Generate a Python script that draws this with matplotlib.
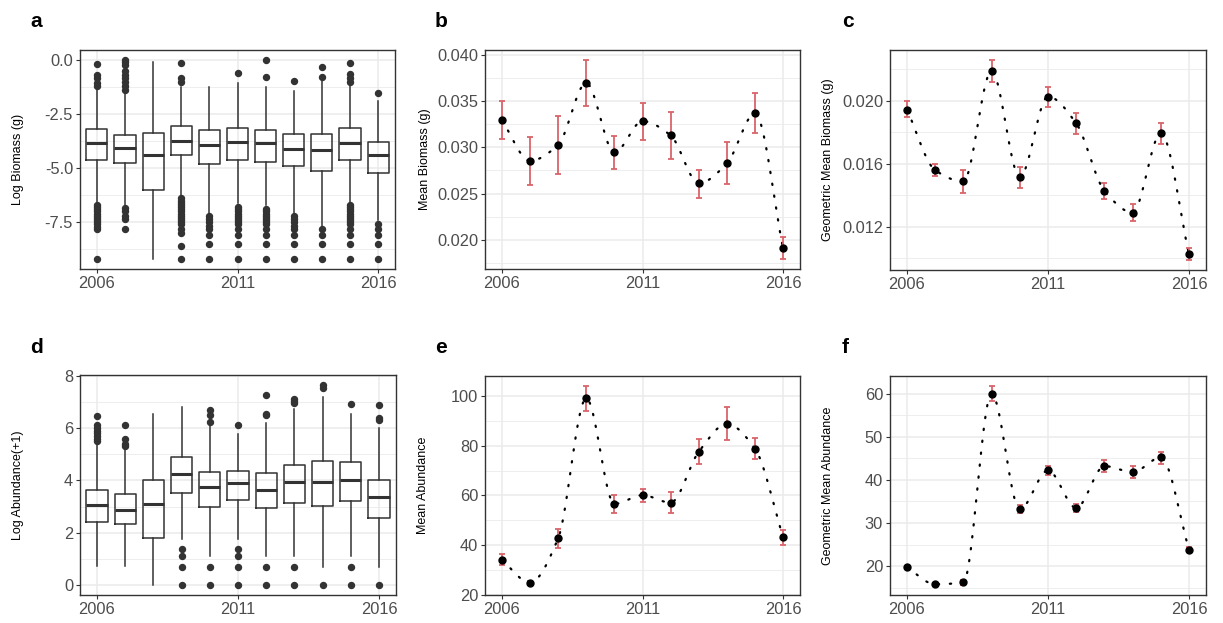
import numpy as np
import matplotlib
matplotlib.use("Agg")
from matplotlib import pyplot as plt

plt.rcParams['font.family'] = ['Liberation Sans', 'DejaVu Sans']

years = list(range(2006, 2017))

# ---- panel a: log biomass boxplots (q1, median, q3, whisker lo, whisker hi)
bio_q1 = [-4.60, -4.78, -6.03, -4.41, -4.83, -4.63, -4.70, -4.90, -5.12, -4.63, -5.24]
bio_med = [-3.83, -4.09, -4.41, -3.74, -3.94, -3.80, -3.83, -4.11, -4.14, -3.86, -4.37]
bio_q3 = [-3.18, -3.45, -3.38, -3.07, -3.24, -3.13, -3.24, -3.41, -3.41, -3.13, -3.79]
bio_wlo = [-6.6, -6.77, -9.18, -6.3, -7.1, -6.6, -6.7, -7.07, -7.68, -6.6, -7.38]
bio_whi = [-1.3, -1.57, -0.09, -1.24, -1.24, -1.08, -1.27, -1.42, -0.96, -1.15, -1.9]
bio_fliers = [
    [-0.2, -0.7, -0.85, -1.05, -1.2, -6.7, -6.8, -6.9, -7.0, -7.1, -7.2, -7.3, -7.4, -7.5, -7.6, -7.7, -7.8, -9.2],
    [0.0, -0.1, -0.25, -0.5, -0.7, -0.85, -1.0, -1.2, -1.4, -6.85, -7.0, -7.2, -7.35, -7.8],
    [],
    [-0.12, -0.84, -1.04, -6.4, -6.5, -6.6, -6.7, -6.8, -6.9, -7.0, -7.1, -7.2, -7.3, -7.4, -7.5, -7.6, -7.8, -8.0, -8.6, -9.2],
    [-7.2, -7.35, -7.5, -7.65, -7.8, -8.1, -8.5, -9.2],
    [-0.61, -6.8, -6.9, -7.0, -7.1, -7.2, -7.3, -7.4, -7.5, -7.6, -7.8, -8.1, -8.5, -9.2],
    [-0.02, -0.78, -6.9, -7.0, -7.1, -7.2, -7.3, -7.4, -7.5, -7.6, -7.8, -8.1, -8.5, -9.2],
    [-0.96, -7.2, -7.35, -7.5, -7.65, -7.8, -8.1, -8.5, -9.2],
    [-0.31, -0.78, -7.8, -8.1, -8.5, -9.2],
    [-0.15, -0.65, -0.85, -1.0, -6.7, -6.8, -6.9, -7.0, -7.1, -7.2, -7.3, -7.4, -7.5, -7.6, -7.8, -8.1, -8.5, -9.2],
    [-1.55, -7.6, -7.8, -8.1, -8.5, -9.2],
]

# ---- panel d: log abundance(+1) boxplots
abu_q1 = [2.41, 2.32, 1.80, 3.51, 2.99, 3.24, 2.94, 3.14, 3.04, 3.20, 2.56]
abu_med = [3.05, 2.86, 3.10, 4.26, 3.73, 3.92, 3.65, 3.93, 3.95, 4.00, 3.35]
abu_q3 = [3.65, 3.50, 4.00, 4.90, 4.31, 4.37, 4.28, 4.59, 4.74, 4.70, 4.00]
abu_wlo = [0.71, 0.71, 0.0, 1.75, 1.1, 1.75, 1.1, 1.1, 0.69, 1.1, 0.69]
abu_whi = [5.45, 5.2, 6.53, 6.79, 6.2, 5.78, 6.18, 6.72, 7.2, 6.53, 6.0]
abu_fliers = [
    [5.5, 5.6, 5.7, 5.8, 5.9, 6.0, 6.1, 6.46],
    [5.3, 5.4, 5.6, 6.1],
    [],
    [1.39, 1.10, 0.69, 0.0],
    [6.25, 6.5, 6.7, 0.69, 0.0],
    [6.1, 1.39, 1.10, 0.69, 0.0],
    [6.5, 6.55, 7.25, 0.69, 0.0],
    [6.95, 7.05, 7.1, 0.69, 0.0],
    [7.55, 7.65, 0.0],
    [6.92, 0.69, 0.0],
    [6.3, 6.4, 6.88, 0.0],
]

# ---- panels b, c, e, f: mean with error bars (value, lower, upper)
mean_bio = [0.03295, 0.02855, 0.03027, 0.03696, 0.02945, 0.03284, 0.03130, 0.02612, 0.02826, 0.03367, 0.01907]
mean_bio_lo = [0.03088, 0.02597, 0.02715, 0.03445, 0.02766, 0.03080, 0.02873, 0.02451, 0.02605, 0.03152, 0.01792]
mean_bio_hi = [0.03503, 0.03116, 0.03345, 0.03946, 0.03123, 0.03485, 0.03385, 0.02758, 0.03055, 0.03592, 0.02025]

geo_bio = [0.01945, 0.0156, 0.01488, 0.0219, 0.01516, 0.02027, 0.01857, 0.01429, 0.01291, 0.01794, 0.01025]
geo_bio_lo = [0.01895, 0.0152, 0.01415, 0.02122, 0.01448, 0.01962, 0.01789, 0.01379, 0.01234, 0.01726, 0.00989]
geo_bio_hi = [0.01996, 0.0160, 0.01558, 0.02259, 0.01579, 0.02088, 0.01922, 0.0148, 0.01343, 0.01857, 0.01067]

mean_abu = [34.0, 24.9, 42.7, 99.1, 56.6, 60.1, 57.1, 77.6, 88.8, 78.8, 43.1]
mean_abu_lo = [31.8, 23.9, 39.0, 93.9, 52.9, 57.3, 53.1, 72.6, 82.2, 74.5, 40.0]
mean_abu_hi = [36.3, 25.7, 46.4, 104.1, 60.1, 62.7, 61.3, 82.6, 95.6, 83.0, 46.0]

geo_abu = [19.7, 15.8, 16.2, 60.0, 33.2, 42.2, 33.5, 43.2, 41.8, 45.2, 23.8]
geo_abu_lo = [19.5, 15.6, 15.7, 58.2, 32.3, 41.2, 32.5, 41.9, 40.4, 43.8, 23.2]
geo_abu_hi = [19.9, 16.0, 16.7, 61.8, 34.2, 43.3, 34.5, 44.6, 43.3, 46.5, 24.4]

GRID = '#ebebeb'
DARK = '#333333'
RED = '#d9646a'


def smooth(x, y, n=400):
    # monotone (pchip-style) cubic through the points, for the dotted trend line
    x = np.asarray(x, float)
    y = np.asarray(y, float)
    h = np.diff(x)
    s = np.diff(y) / h
    m = np.zeros_like(y)
    for i in range(1, len(y) - 1):
        if s[i - 1] * s[i] > 0:
            w1 = 2 * h[i] + h[i - 1]
            w2 = h[i] + 2 * h[i - 1]
            m[i] = (w1 + w2) / (w1 / s[i - 1] + w2 / s[i])
    m[0] = s[0]
    m[-1] = s[-1]
    xs = np.linspace(x[0], x[-1], n)
    idx = np.clip(np.searchsorted(x, xs) - 1, 0, len(x) - 2)
    t = (xs - x[idx]) / h[idx]
    h00 = 2 * t ** 3 - 3 * t ** 2 + 1
    h10 = t ** 3 - 2 * t ** 2 + t
    h01 = -2 * t ** 3 + 3 * t ** 2
    h11 = t ** 3 - t ** 2
    ys = h00 * y[idx] + h10 * h[idx] * m[idx] + h01 * y[idx + 1] + h11 * h[idx] * m[idx + 1]
    return xs, ys


def style(ax, ylabel, major, minor):
    ax.set_yticks(major)
    ax.set_yticks(minor, minor=True)
    ax.grid(True, which='major', color=GRID, lw=1.1, zorder=0)
    ax.grid(True, which='minor', axis='y', color=GRID, lw=0.6, zorder=0)
    ax.set_axisbelow(True)
    for s in ax.spines.values():
        s.set_color(DARK)
        s.set_linewidth(1.0)
    ax.tick_params(which='major', colors=DARK, labelcolor='#4d4d4d', labelsize=11.8, length=3, width=0.8, pad=2)
    ax.tick_params(which='minor', length=0)
    ax.set_ylabel(ylabel, fontsize=9, color='black')


def boxes(ax, q1, med, q3, wlo, whi, fliers):
    stats = []
    for i in range(len(med)):
        stats.append(dict(q1=q1[i], med=med[i], q3=q3[i], whislo=wlo[i], whishi=whi[i], fliers=fliers[i]))
    ax.bxp(stats, positions=years, widths=0.75, showcaps=False,
           boxprops=dict(color=DARK, lw=1.1),
           whiskerprops=dict(color=DARK, lw=1.1),
           medianprops=dict(color=DARK, lw=2.2),
           flierprops=dict(marker='o', markerfacecolor=DARK, markeredgecolor=DARK, markersize=4.3))


def means(ax, val, lo, hi):
    xs, ys = smooth(years, val)
    ax.plot(xs, ys, color='black', lw=1.6, linestyle=(0, (0.6, 4.8)), dash_capstyle='round', zorder=2)
    v = np.array(val)
    ax.errorbar(years, val, yerr=[v - np.array(lo), np.array(hi) - v], fmt='none',
                ecolor=RED, elinewidth=1.3, capsize=2.2, capthick=1.3, zorder=3)
    ax.plot(years, val, 'o', color='black', markersize=5, zorder=4)


fig = plt.figure(figsize=(12.23, 6.23), dpi=100)
W, H = 1223, 623


def make_ax(l, t, r, b, label_x):
    ax = fig.add_axes([l / W, 1 - b / H, (r - l) / W, (b - t) / H])
    ax._label_x = (label_x - l) / (r - l)
    return ax


axa = make_ax(80, 50, 395, 269, 18)
axb = make_ax(485, 50, 800, 269, 425)
axc = make_ax(890, 50, 1206, 270, 828)
axd = make_ax(80, 375, 396, 595, 18)
axe = make_ax(485, 376, 800, 595, 423)
axf = make_ax(890, 376, 1206, 595, 828)

boxes(axa, bio_q1, bio_med, bio_q3, bio_wlo, bio_whi, bio_fliers)
style(axa, 'Log Biomass (g)', [0.0, -2.5, -5.0, -7.5], [-1.25, -3.75, -6.25, -8.75])
axa.set_yticklabels(['0.0', '-2.5', '-5.0', '-7.5'])
axa.set_ylim(-9.66, 0.46)

boxes(axd, abu_q1, abu_med, abu_q3, abu_wlo, abu_whi, abu_fliers)
style(axd, 'Log Abundance(+1)', [0, 2, 4, 6, 8], [1, 3, 5, 7])
axd.set_ylim(-0.38, 8.03)

means(axb, mean_bio, mean_bio_lo, mean_bio_hi)
style(axb, 'Mean Biomass (g)', [0.020, 0.025, 0.030, 0.035, 0.040],
      [0.0175, 0.0225, 0.0275, 0.0325, 0.0375])
axb.set_yticklabels(['0.020', '0.025', '0.030', '0.035', '0.040'])
axb.set_ylim(0.01684, 0.04054)

means(axc, geo_bio, geo_bio_lo, geo_bio_hi)
style(axc, 'Geometric Mean Biomass (g)', [0.012, 0.016, 0.020], [0.010, 0.014, 0.018, 0.022])
axc.set_yticklabels(['0.012', '0.016', '0.020'])
axc.set_ylim(0.00926, 0.02323)

means(axe, mean_abu, mean_abu_lo, mean_abu_hi)
style(axe, 'Mean Abundance', [20, 40, 60, 80, 100], [30, 50, 70, 90])
axe.set_ylim(19.9, 108.1)

means(axf, geo_abu, geo_abu_lo, geo_abu_hi)
style(axf, 'Geometric Mean Abundance', [20, 30, 40, 50, 60], [15, 25, 35, 45, 55])
axf.set_ylim(13.3, 64.1)

for ax in [axa, axb, axc, axd, axe, axf]:
    ax.set_xlim(2005.4, 2016.6)
    ax.set_xticks([2006, 2011, 2016])
    ax.set_xticklabels(['2006', '2011', '2016'])
    ax.yaxis.set_label_coords(ax._label_x, 0.5)
    ax.yaxis.label.set_va('center')

labels = [('a', 30, 27), ('b', 435, 27), ('c', 842, 27), ('d', 30, 353), ('e', 435, 353), ('f', 842, 353)]
for txt, x, y in labels:
    fig.text(x / W, 1 - y / H, txt, fontsize=15, fontweight='bold', ha='left', va='baseline')

fig.savefig('out.png', dpi=100, facecolor='white')
